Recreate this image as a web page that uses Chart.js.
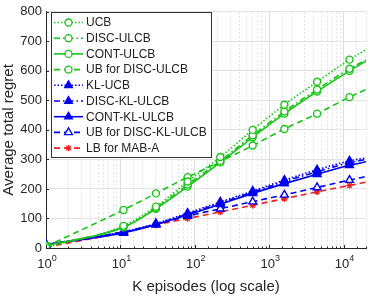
<!DOCTYPE html>
<html>
<head>
<meta charset="utf-8">
<script src="https://cdn.jsdelivr.net/npm/chart.js@4/dist/chart.umd.min.js"></script>
<style>
  html, body { margin: 0; padding: 0; background: #fff; }
  #wrap { width: 374px; height: 296px; }
</style>
</head>
<body>
<div id="wrap"><canvas id="regretChart" width="374" height="296"></canvas></div>
<script>
// episodes (K) where the curves were sampled, last one is the axis end (no marker)
const episodes = [1, 11, 30, 80, 220, 600, 1600, 4400, 12000, 20000];

const ucb = [2, 75, 140, 225, 308, 400, 485, 563, 638, 672];
const discUlcb = [8, 71, 135, 215, 295, 382, 462, 537, 607, 637];
const contUlcb = [8, 70, 133, 208, 290, 375, 455, 530, 600, 633];
const ubDiscUlcb = [5, 129, 185, 240, 293, 347, 403, 455, 511, 537];
const klUcb = [12, 55, 83, 118, 156, 193, 230, 265, 295, 305];
const discKlUlcb = [12, 53, 81, 115, 152, 189, 225, 258, 289, 300];
const contKlUlcb = [12, 51, 79, 112, 148, 185, 218, 250, 280, 292];
const ubDiscKlUlcb = [10, 55, 80, 108, 133, 157, 180, 205, 230, 242];
const lbMabA = [3, 53, 78, 100, 122, 145, 167, 190, 212, 223];

const xTickLabels = ["0", "1", "2", "3", "4"]; // exponents of 10

const GREEN = "#17c417";
const BLUE = "#0000f0";
const RED = "#ee2222";
const DOT = [1.5, 2];
const DASH = [6, 4];
const DASHDOT = [6, 3, 1.5, 3];

function pts(ys) {
  return ys.map((y, i) => ({ x: episodes[i], y: y }));
}
function radii(r) {
  return episodes.map((_, i) => (i === episodes.length - 1 ? 0 : r));
}
function series(label, ys, color, dash, style, r, fill) {
  return {
    label: label,
    data: pts(ys),
    borderColor: color,
    backgroundColor: fill,
    pointBorderColor: color,
    pointBackgroundColor: fill,
    borderWidth: 1.6,
    pointBorderWidth: 1.4,
    borderDash: dash,
    pointStyle: style,
    pointRadius: radii(r),
    cubicInterpolationMode: "monotone",
    fill: false
  };
}

const datasets = [
  series("UCB", ucb, GREEN, DOT, "circle", 3.5, "#fff"),
  series("DISC-ULCB", discUlcb, GREEN, DASHDOT, "circle", 3.5, "#fff"),
  series("CONT-ULCB", contUlcb, GREEN, [], "circle", 3.5, "#fff"),
  series("UB for DISC-ULCB", ubDiscUlcb, GREEN, DASH, "circle", 3.5, "#fff"),
  series("KL-UCB", klUcb, BLUE, DOT, "triangle", 4.5, BLUE),
  series("DISC-KL-ULCB", discKlUlcb, BLUE, DASHDOT, "triangle", 4.5, BLUE),
  series("CONT-KL-ULCB", contKlUlcb, BLUE, [], "triangle", 4.5, BLUE),
  series("UB for DISC-KL-ULCB", ubDiscKlUlcb, BLUE, DASH, "triangle", 4.5, "#fff"),
  series("LB for MAB-A", lbMabA, RED, DASH, "star", 3.2, RED)
];

const FONT = "'Liberation Sans', Arial, sans-serif";

function isDecade(v) {
  const l = Math.log10(v);
  return Math.abs(l - Math.round(l)) < 1e-9;
}

function drawMarker(ctx, style, x, y, r, stroke, fill) {
  ctx.save();
  ctx.setLineDash([]);
  ctx.strokeStyle = stroke;
  ctx.fillStyle = fill;
  ctx.lineWidth = 1.3;
  ctx.beginPath();
  if (style === "circle") {
    ctx.arc(x, y, r, 0, Math.PI * 2);
    ctx.fill();
    ctx.stroke();
  } else if (style === "triangle") {
    ctx.moveTo(x, y - r);
    ctx.lineTo(x + r * 0.866, y + r / 2);
    ctx.lineTo(x - r * 0.866, y + r / 2);
    ctx.closePath();
    ctx.fill();
    ctx.stroke();
  } else {
    for (let k = 0; k < 4; k++) {
      const a = k * Math.PI / 4;
      ctx.moveTo(x - Math.cos(a) * r, y - Math.sin(a) * r);
      ctx.lineTo(x + Math.cos(a) * r, y + Math.sin(a) * r);
    }
    ctx.stroke();
  }
  ctx.restore();
}

// small inward tick marks like matlab
const innerTicks = {
  id: "innerTicks",
  afterDatasetsDraw(chart) {
    const ctx = chart.ctx;
    const xs = chart.scales.x, ys = chart.scales.y;
    const area = chart.chartArea;
    ctx.save();
    ctx.strokeStyle = "#262626";
    ctx.lineWidth = 1;
    ctx.beginPath();
    ys.ticks.forEach((t) => {
      const py = Math.round(ys.getPixelForValue(t.value)) + 0.5;
      ctx.moveTo(area.left, py);
      ctx.lineTo(area.left + 3, py);
    });
    xs.ticks.forEach((t) => {
      const px = Math.round(xs.getPixelForValue(t.value)) + 0.5;
      const len = isDecade(t.value) ? 3 : 1.5;
      ctx.moveTo(px, area.bottom);
      ctx.lineTo(px, area.bottom - len);
    });
    ctx.stroke();
    ctx.restore();
  }
};

// legend box in the top-left corner of the plot, MATLAB style
const insideLegend = {
  id: "insideLegend",
  afterDraw(chart) {
    const ctx = chart.ctx;
    const left = 51.5, top = 12.5, w = 160, h = 145;
    ctx.save();
    ctx.fillStyle = "#fff";
    ctx.fillRect(left, top, w, h);
    ctx.strokeStyle = "#333";
    ctx.lineWidth = 1;
    ctx.strokeRect(left, top, w, h);
    ctx.font = "12px " + FONT;
    ctx.textBaseline = "middle";
    chart.data.datasets.forEach((ds, i) => {
      const y = 22.5 + i * 15.7;
      ctx.strokeStyle = ds.borderColor;
      ctx.lineWidth = 1.6;
      ctx.setLineDash(ds.borderDash);
      ctx.beginPath();
      ctx.moveTo(54, y);
      ctx.lineTo(83, y);
      ctx.stroke();
      drawMarker(ctx, ds.pointStyle, 68.5, y, ds.pointRadius[0], ds.pointBorderColor, ds.pointBackgroundColor);
      ctx.fillStyle = "#222";
      ctx.fillText(ds.label, 86, y + 0.5);
    });
    ctx.restore();
  }
};

// x tick labels as 10 with superscript exponent
const powerLabels = {
  id: "powerLabels",
  afterDraw(chart) {
    const ctx = chart.ctx;
    const xs = chart.scales.x;
    ctx.save();
    ctx.fillStyle = "#262626";
    ctx.textBaseline = "alphabetic";
    xTickLabels.forEach((e) => {
      const px = xs.getPixelForValue(Math.pow(10, Number(e)));
      ctx.font = "13px " + FONT;
      const bw = ctx.measureText("10").width;
      ctx.font = "9px " + FONT;
      const ew = ctx.measureText(e).width;
      const x0 = px - (bw + ew) / 2 + 1;
      ctx.font = "13px " + FONT;
      ctx.textAlign = "left";
      ctx.fillText("10", x0, 268);
      ctx.font = "9px " + FONT;
      ctx.fillText(e, x0 + bw, 261);
    });
    ctx.restore();
  }
};

new Chart(document.getElementById("regretChart").getContext("2d"), {
  type: "line",
  data: { datasets: datasets },
  plugins: [innerTicks, powerLabels, insideLegend],
  options: {
    responsive: false,
    animation: false,
    devicePixelRatio: 1,
    layout: { padding: { left: 0, top: 10, right: 8, bottom: 0 } },
    plugins: {
      legend: { display: false },
      tooltip: { enabled: false }
    },
    scales: {
      x: {
        type: "logarithmic",
        min: 1,
        max: 20000,
        afterFit(scale) { scale.height = 48; },
        grid: {
          drawTicks: false,
          color: (c) => (c.tick && isDecade(c.tick.value) ? "#dedede" : "#e3e3e3"),
          lineWidth: 1
        },
        border: {
          display: true,
          color: "#262626",
          width: 1,
          dash: (c) => (c.tick && !isDecade(c.tick.value) ? [2, 2] : [])
        },
        ticks: {
          autoSkip: false,
          maxRotation: 0,
          callback: () => ""
        },
        title: {
          display: true,
          text: "K episodes (log scale)",
          color: "#262626",
          font: { family: FONT, size: 15 },
          padding: { top: 22, bottom: 0 }
        }
      },
      y: {
        min: 0,
        max: 800,
        afterFit(scale) { scale.width = 46; },
        grid: {
          drawTicks: false,
          color: "#e2e2e2",
          lineWidth: 1
        },
        border: { display: true, color: "#262626", width: 1 },
        ticks: {
          stepSize: 100,
          padding: 4,
          color: "#262626",
          font: { family: FONT, size: 13 }
        },
        title: {
          display: true,
          text: "Average total regret",
          color: "#262626",
          font: { family: FONT, size: 15 },
          padding: { top: 0, bottom: 2 }
        }
      }
    }
  }
});
</script>
</body>
</html>
